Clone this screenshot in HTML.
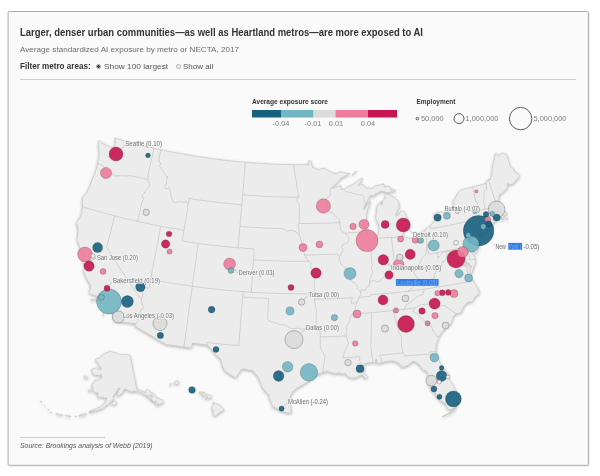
<!DOCTYPE html>
<html><head><meta charset="utf-8"><title>AI exposure map</title>
<style>
html,body{margin:0;padding:0;background:#fff;}
body{width:600px;height:476px;overflow:hidden;position:relative;font-family:"Liberation Sans",sans-serif;}
.t{position:absolute;white-space:nowrap;transform-origin:0 100%;line-height:1;}
.radio{position:absolute;width:5px;height:5px;border-radius:50%;border:1px solid #b5b5b5;background:#ececec;box-sizing:border-box}
.radio.on{background:radial-gradient(circle,#333 0,#333 1px,#f4f4f4 1.6px);border-color:#999}
#rule{position:absolute;left:20px;top:79px;width:556px;height:1px;background:#cfcfcf}
#srule{position:absolute;left:20px;top:437px;width:85px;height:1px;background:#cfcfcf}
svg{position:absolute;left:0;top:0}
.lb{font-size:6.3px;fill:#707070;paint-order:stroke;stroke:#f6f6f6;stroke-width:1.4px;stroke-linejoin:round;font-family:"Liberation Sans",sans-serif}
.lg{font-size:7.4px;fill:#808080;font-family:"Liberation Sans",sans-serif}
.lgb{font-size:7px;font-weight:bold;fill:#333;font-family:"Liberation Sans",sans-serif}
</style></head><body>
<svg width="600" height="476" viewBox="0 0 600 476"><rect x="8.6" y="12.3" width="580.6" height="453.9" rx="1" fill="none" stroke="#e9e9e9" stroke-width="1"/><rect x="8.1" y="11.5" width="580.3" height="453.8" rx="1" fill="#fafafa" stroke="#ababab" stroke-width="1"/></svg>
<div id="title" class="t" style="left:20px;top:26.61px;font-size:10.5px;font-weight:bold;color:#333;transform:scaleX(0.9012)">Larger, denser urban communities—as well as Heartland metros—are more exposed to AI</div><div id="sub" class="t" style="left:20px;top:45.83px;font-size:8px;color:#6b6b6b;transform:scaleX(1.0147)">Average standardized AI exposure by metro or NECTA, 2017</div><div id="f1" class="t" style="left:20px;top:61.94px;font-size:8.7px;font-weight:bold;color:#333;transform:scaleX(0.9312)">Filter metro areas:</div><div id="f2" class="t" style="left:103.7px;top:62.53px;font-size:8px;color:#555;transform:scaleX(1.0367)">Show 100 largest</div><div id="f3" class="t" style="left:183px;top:62.53px;font-size:8px;color:#555;transform:scaleX(1.0017)">Show all</div><span class="radio on" style="left:96px;top:63.5px"></span><span class="radio" style="left:176px;top:63.5px"></span>
<div id="rule"></div>
<svg width="600" height="476" viewBox="0 0 600 476">
<defs><filter id="sh" x="-5%" y="-5%" width="110%" height="110%"><feGaussianBlur in="SourceAlpha" stdDeviation="1.6"/><feOffset dx="0" dy="0.6"/><feComponentTransfer><feFuncA type="linear" slope=".32"/></feComponentTransfer><feMerge><feMergeNode/><feMergeNode in="SourceGraphic"/></feMerge></filter></defs>
<g id="legend" opacity=".995">
<text x="252" y="104" class="lgb" textLength="76" lengthAdjust="spacingAndGlyphs">Average exposure score</text>
<rect x="252" y="110" width="29" height="7.5" fill="#17617f"/><rect x="281" y="110" width="32.5" height="7.5" fill="#73b6c3"/><rect x="313.5" y="110" width="22" height="7.5" fill="#dcdcdc"/><rect x="335.5" y="110" width="32.5" height="7.5" fill="#ee7c9c"/><rect x="368" y="110" width="29" height="7.5" fill="#c8154f"/>
<text x="281" y="126" class="lg" text-anchor="middle">-0.04</text><text x="313" y="126" class="lg" text-anchor="middle">-0.01</text><text x="336" y="126" class="lg" text-anchor="middle">0.01</text><text x="368" y="126" class="lg" text-anchor="middle">0.04</text>
<text x="416.5" y="104" class="lgb" textLength="39" lengthAdjust="spacingAndGlyphs">Employment</text>
<circle cx="417.4" cy="118.6" r="1.3" fill="none" stroke="#333" stroke-width=".8"/><text x="421" y="121" class="lg">50,000</text>
<circle cx="459" cy="118.6" r="5" fill="none" stroke="#333" stroke-width=".8"/><text x="465.5" y="121" class="lg">1,000,000</text>
<circle cx="520.6" cy="118.6" r="11.2" fill="none" stroke="#333" stroke-width=".8"/><text x="533.5" y="121" class="lg">5,000,000</text>
</g>
<g id="map">
<path d="M99.1,140.3L101.0,142.0L102.8,143.6L105.1,144.7L107.3,145.7L110.2,146.7L112.2,147.1L112.3,150.1L112.1,153.4L110.5,156.2L108.6,157.4L111.5,156.5L113.3,153.2L115.0,149.8L114.6,145.8L115.6,141.1L114.5,138.0L117.9,139.0L121.3,140.0L124.7,140.9L128.1,141.8L131.5,142.7L134.9,143.6L138.3,144.4L141.7,145.3L145.1,146.1L148.5,146.9L151.9,147.7L155.4,148.5L158.8,149.2L162.2,150.0L165.7,150.7L169.1,151.4L172.5,152.1L176.0,152.7L179.5,153.4L182.9,154.0L186.4,154.6L189.8,155.2L193.3,155.8L196.8,156.4L200.2,156.9L203.7,157.4L207.2,157.9L210.7,158.4L214.1,158.9L217.6,159.3L221.1,159.8L224.6,160.2L228.1,160.6L231.6,161.0L235.1,161.3L238.6,161.7L242.1,162.0L245.6,162.3L249.1,162.6L252.6,162.8L256.1,163.1L259.6,163.3L263.1,163.5L266.6,163.7L270.1,163.9L273.6,164.1L277.1,164.2L280.6,164.3L284.1,164.5L287.7,164.5L291.2,164.6L294.7,164.7L298.2,164.7L301.7,164.7L305.2,164.7L308.7,164.7L308.7,160.7L311.0,161.3L312.1,165.9L312.4,167.4L315.4,168.5L318.5,169.6L321.7,168.7L324.5,168.3L328.2,170.6L331.7,172.2L335.2,173.8L337.5,172.9L339.8,172.0L342.5,172.5L345.3,172.9L347.5,173.3L349.7,173.6L346.5,175.5L343.9,176.7L341.2,178.0L339.1,180.2L337.1,182.5L333.9,185.8L331.4,187.9L332.6,188.5L335.3,187.6L338.0,186.7L340.5,185.4L341.4,188.1L340.4,189.2L343.9,189.4L345.8,188.1L347.6,186.9L350.1,185.8L352.6,184.7L356.1,182.3L359.6,179.2L362.8,178.4L361.2,180.8L359.2,183.7L358.3,185.9L360.4,184.4L363.7,185.1L366.2,188.1L369.2,188.0L371.9,188.7L375.3,185.7L377.7,185.4L380.1,185.1L383.6,183.7L384.3,186.8L386.9,186.8L388.7,186.0L390.7,187.9L391.1,190.1L394.8,189.6L395.7,191.1L392.4,191.5L389.6,192.3L386.8,193.1L384.5,191.7L380.7,191.3L377.2,193.3L375.0,194.0L373.5,197.2L371.8,195.2L369.6,196.2L368.7,198.4L366.1,203.5L364.4,205.8L363.6,209.7L365.4,207.9L368.1,204.4L370.6,200.9L369.8,203.7L368.6,206.8L367.4,209.9L366.7,214.3L366.5,218.1L365.5,223.0L365.9,225.8L366.8,230.7L367.0,231.6L367.5,234.8L369.0,238.1L370.0,239.8L371.4,240.7L373.4,240.2L374.9,239.3L375.5,238.8L377.6,234.9L379.0,231.5L379.2,227.3L377.7,222.6L375.7,218.3L376.0,215.0L376.6,211.7L376.9,207.6L377.9,204.5L379.9,203.2L381.1,201.2L381.4,205.5L382.4,204.6L382.6,200.8L384.6,198.9L385.7,198.1L384.3,196.3L386.8,194.0L389.1,195.2L391.9,196.4L394.1,197.0L397.5,200.5L398.8,202.6L399.2,207.2L398.1,209.0L397.0,212.0L395.6,213.8L396.1,216.3L399.2,214.5L400.4,211.9L402.6,210.5L404.7,212.1L406.6,216.7L408.2,221.4L408.2,225.2L407.1,226.4L405.6,227.7L404.2,229.6L404.0,232.3L402.1,236.1L403.3,236.2L405.9,237.5L408.1,237.4L408.9,238.5L412.4,237.7L416.2,236.6L419.4,233.3L422.6,231.2L424.7,230.0L427.8,227.6L430.1,225.9L433.0,223.0L434.8,220.3L435.7,218.2L434.2,216.3L433.7,214.4L435.7,213.4L437.7,212.5L441.5,211.7L444.8,212.4L447.8,211.5L450.0,210.8L452.7,208.4L454.8,207.1L454.1,203.9L452.4,201.5L455.2,198.2L457.6,193.8L459.2,191.9L460.8,190.0L462.5,189.4L465.9,188.6L469.2,187.8L472.6,186.9L476.0,186.1L479.4,185.3L482.8,184.4L486.2,183.5L486.4,181.3L488.4,179.7L490.2,179.7L490.8,177.9L492.1,173.7L492.0,169.3L492.7,166.3L493.7,162.1L494.6,157.9L495.4,153.7L496.8,153.7L498.6,155.9L500.4,154.4L502.3,152.8L504.5,153.8L506.7,154.7L508.0,158.7L509.2,162.7L510.5,166.7L513.8,169.0L514.8,172.3L517.4,172.9L519.9,175.9L517.3,179.2L514.3,182.3L512.5,184.2L509.8,184.8L507.5,183.5L507.1,187.8L504.2,191.5L501.9,193.3L499.2,195.1L498.9,198.6L497.5,202.1L497.2,204.1L497.4,205.1L499.4,206.1L497.6,208.4L497.0,210.3L499.6,211.2L501.1,213.6L502.7,215.2L504.4,215.3L506.5,214.0L505.3,211.9L504.0,211.5L505.3,211.3L506.7,213.2L507.2,215.1L504.8,216.2L502.4,217.7L501.2,216.2L500.0,217.9L498.7,219.3L497.4,220.0L496.3,217.2L496.0,218.4L496.3,221.5L493.6,222.7L491.7,223.4L488.7,224.5L485.6,225.4L483.6,227.1L480.4,229.5L479.7,231.7L481.8,230.1L485.1,228.8L488.7,227.8L491.1,225.1L491.0,226.9L494.2,225.3L492.0,227.2L489.9,229.1L487.4,230.8L484.9,232.6L482.8,233.3L480.7,234.1L478.8,234.7L478.3,233.6L477.2,235.3L479.0,235.8L479.6,237.5L479.8,240.5L480.0,243.5L478.4,248.2L476.5,252.1L475.4,253.7L474.6,251.1L471.5,250.5L469.0,248.8L468.7,247.2L468.8,249.4L470.9,251.7L471.3,253.2L473.4,255.0L474.5,255.6L475.5,259.0L475.5,260.7L475.0,263.8L474.0,265.8L472.8,270.1L471.1,274.7L470.2,272.9L470.6,269.5L471.5,266.0L470.0,265.8L469.2,263.2L466.5,262.6L465.0,259.6L465.9,257.8L463.8,256.0L464.5,253.1L465.5,250.1L464.7,249.2L462.7,252.4L462.5,253.5L462.8,256.0L463.0,258.9L464.7,261.9L466.1,265.6L463.5,264.4L460.4,263.9L458.1,263.2L458.8,259.2L457.1,262.3L459.6,264.1L463.7,265.4L467.1,267.0L466.8,270.3L467.8,272.9L467.3,274.6L468.6,276.6L468.7,277.1L471.2,276.8L471.7,277.6L473.2,280.6L475.0,284.1L477.9,288.4L479.3,292.0L479.1,293.9L475.5,296.5L473.7,299.4L472.0,302.4L470.3,301.6L467.0,302.9L464.1,306.2L462.1,309.9L461.3,312.8L458.7,313.3L456.1,313.8L453.5,316.0L452.0,321.1L450.7,324.1L448.4,326.0L446.1,328.0L442.5,331.5L440.7,334.5L439.0,336.7L437.5,340.5L436.4,345.1L435.8,347.3L436.0,351.4L436.2,351.6L437.1,355.5L438.7,359.9L441.4,364.9L443.8,368.3L447.4,372.6L448.3,374.1L448.2,377.9L451.2,382.3L454.0,386.7L455.9,390.7L456.6,396.0L456.8,401.3L455.7,405.3L455.1,408.1L450.9,409.3L448.5,410.0L447.1,407.2L444.9,403.3L440.1,400.8L437.7,397.4L435.5,396.1L436.0,392.8L434.1,393.1L432.4,391.2L430.0,388.3L430.6,385.5L431.1,382.2L429.1,385.2L427.4,383.2L427.4,380.0L428.4,376.6L427.3,372.4L425.6,370.5L423.7,370.5L421.7,367.9L419.7,365.4L416.5,362.5L413.6,361.3L410.5,362.8L410.6,363.8L408.2,365.1L405.8,366.4L401.7,367.4L401.0,365.5L397.9,362.8L393.1,361.0L390.3,360.9L387.1,361.5L383.9,362.1L381.0,362.9L378.4,363.6L376.4,363.8L377.4,361.9L376.2,359.0L375.4,360.5L375.1,362.8L372.8,362.6L368.2,362.7L364.1,364.0L362.6,365.4L361.0,365.6L359.7,367.0L363.4,366.8L365.4,368.8L362.7,370.6L363.8,373.7L366.8,375.7L367.8,376.7L366.5,378.0L364.5,378.7L364.0,376.4L361.1,374.8L358.4,376.2L357.1,377.6L354.3,377.9L351.5,378.2L347.6,376.6L345.6,373.7L341.9,373.9L339.0,372.9L334.4,373.5L331.1,372.5L327.8,371.5L325.2,371.9L322.7,372.4L320.2,373.5L317.6,374.6L314.4,376.5L311.1,379.0L308.8,381.2L305.7,383.1L302.7,384.9L298.9,387.1L296.0,389.2L293.2,391.3L291.2,394.5L289.4,399.3L289.7,403.5L291.0,408.9L291.5,412.5L288.1,413.3L283.2,411.4L280.3,410.8L275.6,407.8L272.7,406.9L271.4,402.5L269.1,397.7L269.2,395.0L266.0,392.2L262.0,386.7L260.3,382.3L258.6,377.9L256.4,375.2L252.5,370.4L249.7,370.1L246.9,369.8L244.2,368.8L240.8,370.1L238.7,374.1L235.6,377.8L232.7,376.0L229.7,374.2L227.1,372.5L224.4,370.8L222.1,365.2L221.5,362.1L220.8,359.1L216.5,355.7L214.1,352.6L211.6,349.5L209.5,347.2L207.3,345.0L203.5,344.5L199.7,344.1L195.9,343.6L192.2,343.1L191.5,347.9L187.2,347.4L182.9,346.8L178.6,346.2L174.3,345.5L170.0,344.9L165.7,344.2L161.7,342.0L157.8,339.7L153.9,337.4L150.0,335.1L146.1,332.8L142.2,330.5L138.4,328.2L134.6,325.8L135.8,323.6L131.5,323.2L127.2,322.7L122.9,322.2L118.6,321.7L114.3,321.1L113.6,319.1L113.7,317.5L113.5,313.5L111.5,310.2L108.7,306.7L107.0,306.2L106.1,305.4L106.0,302.7L103.4,302.3L99.9,299.7L96.8,296.2L93.6,295.1L90.3,293.9L89.2,292.2L90.0,289.5L90.9,286.8L89.5,283.4L86.9,279.0L85.2,275.2L83.6,271.4L84.1,268.1L85.9,266.4L84.3,264.3L82.2,260.8L82.3,257.5L82.9,254.5L84.7,258.2L86.1,256.3L84.7,253.7L83.2,254.0L80.1,251.2L80.1,247.6L78.5,243.6L76.9,239.6L77.8,234.2L77.9,231.1L78.0,228.0L76.3,222.5L79.0,219.3L80.1,216.8L82.0,212.8L82.0,209.4L82.7,206.8L82.2,203.3L82.5,200.3L82.7,197.3L84.7,195.0L86.8,192.3L88.2,189.3L89.6,186.4L90.8,183.2L92.0,180.0L93.3,177.2L94.5,174.4L95.4,171.6L96.4,168.8L97.6,163.6L98.0,160.3L99.0,159.0L99.0,156.2L99.1,152.3L98.9,147.8L98.2,145.3L99.1,140.3ZM163.5,402.9L162.4,403.1L161.4,403.3L160.8,403.7L160.3,404.1L159.5,404.8L158.7,405.4L157.4,405.0L156.2,404.7L155.4,403.3L154.7,402.0L153.7,401.7L152.7,401.4L151.5,400.4L150.2,399.4L149.0,398.2L147.8,396.9L146.9,395.6L146.0,395.2L145.0,394.8L144.1,394.4L143.2,393.9L142.3,393.3L141.4,392.7L140.5,392.4L139.6,392.0L138.8,391.8L137.9,391.7L137.1,391.5L136.2,391.3L135.3,391.4L134.3,391.4L133.4,391.4L132.5,391.7L131.6,391.9L130.7,391.6L129.9,391.3L129.1,391.0L128.2,390.7L127.4,389.9L126.6,389.2L125.6,389.1L124.7,389.0L124.1,389.8L123.4,390.6L123.3,391.8L123.2,392.9L122.3,393.1L121.4,393.2L120.5,394.3L119.6,395.4L118.8,395.7L118.0,396.0L117.2,396.3L117.5,394.7L117.6,393.6L117.8,392.5L117.9,391.0L118.7,390.2L119.5,389.4L120.3,388.2L119.5,388.3L118.7,388.5L117.9,389.4L117.2,390.2L116.5,391.4L115.7,392.5L115.0,393.7L114.3,394.8L113.4,395.8L112.6,396.7L113.2,397.5L113.7,398.2L113.1,399.3L112.4,400.5L111.4,401.2L110.4,402.0L109.5,402.8L108.7,403.7L107.9,404.5L107.1,405.0L106.3,405.5L105.5,405.9L104.5,407.0L103.5,408.1L102.6,408.4L101.7,408.7L100.7,409.0L99.8,409.3L98.9,409.7L98.1,410.0L96.9,410.4L95.8,410.7L94.7,411.0L93.7,411.2L92.7,411.4L91.6,411.7L90.5,412.0L89.5,412.3L89.4,411.3L90.5,411.1L91.5,410.8L92.6,410.5L93.8,410.0L94.9,409.5L95.8,408.9L96.7,408.3L97.7,407.7L98.5,407.7L99.4,407.7L100.5,406.8L101.6,405.9L102.7,405.0L103.5,404.2L104.3,403.5L105.1,402.7L105.6,401.3L106.1,399.9L106.5,398.9L106.9,397.9L106.1,398.0L105.2,398.2L104.4,397.7L103.7,397.3L102.7,397.2L101.7,397.2L101.0,397.4L100.3,397.6L99.4,397.6L98.4,397.6L97.4,397.5L97.7,396.5L98.1,395.5L98.0,394.1L98.0,392.8L97.0,392.9L96.1,392.9L95.4,392.7L94.6,392.5L93.9,392.2L93.4,390.8L92.9,389.4L92.8,388.2L92.7,387.1L92.1,386.2L91.6,385.3L92.1,384.3L92.6,383.2L93.4,382.6L94.1,382.0L94.9,380.2L95.6,380.3L96.2,380.4L96.9,380.5L97.7,380.1L98.4,379.7L99.1,379.3L99.9,379.0L100.6,378.7L101.4,378.4L101.9,376.6L101.4,375.0L101.8,374.3L101.0,374.7L100.1,375.1L99.3,375.5L98.5,375.3L97.7,375.1L97.0,375.1L96.3,375.1L95.6,375.2L94.8,374.8L94.0,374.5L93.3,374.2L92.7,372.9L92.1,371.7L91.7,370.8L91.2,369.9L91.9,369.6L92.7,369.2L93.4,368.8L94.1,368.4L94.9,368.2L95.7,368.1L96.5,367.9L97.0,368.4L97.5,368.8L98.1,369.3L98.8,369.4L99.4,369.5L100.1,369.6L100.8,369.6L101.3,368.2L100.8,367.4L100.3,366.6L99.7,366.2L99.2,365.9L98.6,365.6L98.3,364.4L98.0,363.2L97.4,362.5L96.8,361.8L96.2,361.0L95.7,360.6L95.2,360.3L95.8,359.4L96.4,358.5L96.9,358.5L97.5,358.6L98.1,358.6L98.7,358.6L99.4,358.0L100.1,357.5L100.7,356.9L101.4,356.1L102.0,355.3L102.6,354.5L103.3,354.2L104.0,353.8L104.7,353.5L105.3,353.1L106.0,353.0L106.6,352.9L107.3,352.7L107.9,352.6L108.5,352.0L109.2,351.4L109.8,350.8L110.2,351.1L110.7,351.3L111.2,351.6L111.7,351.8L112.3,352.1L113.0,352.3L113.6,352.5L114.2,352.6L114.8,352.7L115.5,352.7L116.1,353.0L116.8,353.3L117.4,353.6L118.1,353.9L118.7,354.0L119.4,354.1L120.0,354.2L120.7,354.3L121.3,354.4L122.0,354.5L122.6,354.6L123.3,354.7L123.9,354.6L124.6,354.6L125.2,354.6L125.8,354.5L126.4,354.4L127.0,354.6L127.6,354.8L128.2,355.0L128.8,355.1L129.5,355.3L130.1,355.5L130.4,357.3L130.8,359.1L131.1,360.8L131.5,362.6L131.9,364.4L132.2,366.3L132.6,368.1L132.9,369.9L133.3,371.7L133.6,373.5L134.0,375.3L134.4,377.1L134.7,378.9L135.1,380.8L135.4,382.6L135.8,384.4L136.2,386.2L136.5,388.0L136.9,389.8L137.7,389.9L138.6,389.9L139.5,389.9L140.3,389.9L140.8,390.4L141.9,391.1L143.0,391.8L144.0,392.5L144.7,392.7L145.4,392.9L145.8,391.0L146.6,390.2L147.3,389.3L148.6,390.3L149.6,391.1L150.7,392.0L151.7,392.6L152.7,393.1L153.9,394.3L155.0,395.5L156.2,396.7L157.6,398.3L158.5,398.6L159.4,398.9L160.4,399.3L161.3,399.3L162.2,399.4L162.9,401.1L163.5,402.9ZM116.6,402.3L115.9,401.6L115.3,400.8L114.6,401.0L114.0,401.2L113.2,401.9L112.5,402.5L111.7,403.1L112.1,404.2L112.5,405.4L113.6,405.0L114.6,404.6L115.5,404.0L116.4,403.4L116.6,402.3ZM91.6,390.3L91.0,390.0L90.4,389.7L89.4,389.9L88.4,390.1L89.1,391.6L90.0,391.7L90.9,391.7L91.6,390.3ZM88.3,378.1L87.6,377.5L86.9,376.8L86.2,376.1L85.4,376.1L84.6,376.2L83.9,376.3L84.2,377.1L84.5,378.0L85.3,378.3L86.1,378.5L86.9,378.8L87.6,378.5L88.3,378.1ZM86.2,413.4L85.4,413.4L84.6,413.3L83.4,414.1L82.2,414.9L83.1,415.3L83.9,415.7L84.8,415.3L85.7,414.9L86.2,413.4ZM81.9,414.5L80.8,414.8L79.6,415.1L79.1,416.4L80.1,416.1L81.1,415.8L81.9,414.5ZM70.9,416.2L69.8,415.9L68.7,415.6L67.5,415.4L66.4,415.5L65.3,415.6L66.3,416.0L67.3,416.3L68.4,416.6L69.6,416.4L70.9,416.2ZM62.8,415.0L61.8,414.7L60.8,414.5L59.9,414.7L59.1,414.9L60.2,415.4L61.3,415.8L62.8,415.0ZM58.7,414.1L57.8,413.7L57.0,413.3L55.9,414.0L56.9,414.5L57.8,415.0L58.7,414.1ZM49.2,409.6L48.5,409.4L47.9,409.2L48.3,410.0L49.2,409.6ZM41.8,402.2L41.1,401.7L40.3,401.2L40.4,401.9L41.1,402.1L41.8,402.2ZM51.7,412.5L51.0,412.4L50.3,412.3L50.8,412.9L51.7,412.5ZM76.8,416.2L75.9,416.2L75.0,416.1L76.0,416.8L76.8,416.2ZM45.2,406.2L44.2,405.5L44.4,406.2L45.2,406.2ZM92.9,411.7L92.2,411.2L91.5,410.7L90.4,411.2L89.3,411.7L90.1,412.6L91.1,412.5L92.1,412.5L92.9,411.7ZM158.9,404.6L157.9,404.3L156.9,404.0L155.8,402.6L154.8,401.1L155.5,400.9L156.2,400.7L157.1,401.6L157.9,402.5L158.4,403.5L158.9,404.6ZM152.8,401.8L151.6,400.6L150.4,399.3L149.0,398.0L147.6,396.6L148.0,395.8L148.3,395.0L149.2,395.3L150.1,395.5L150.7,396.9L151.4,398.3L152.1,400.0L152.8,401.8ZM153.0,397.4L152.2,397.1L151.3,396.7L150.8,395.7L150.3,394.7L150.9,394.7L151.5,394.7L152.6,395.9L153.0,397.4ZM213.2,402.1L216.2,403.7L220.3,405.3L221.8,407.6L224.4,409.8L219.3,412.7L215.5,416.3L213.1,414.4L213.2,410.6L211.7,407.4L213.7,404.2L213.2,402.1ZM205.1,394.6L206.1,393.8L207.6,395.2L209.6,394.8L212.2,396.4L211.2,398.0L207.6,398.4L207.3,396.5L205.3,395.9L205.1,394.6ZM189.2,388.0L192.3,386.5L194.0,388.8L195.5,390.9L194.0,391.4L191.0,390.9L190.0,389.6L189.2,388.0ZM174.2,382.3L176.0,380.9L178.5,381.2L179.0,383.4L177.5,384.6L174.5,383.6L174.2,382.3ZM199.1,393.0L199.6,391.8L203.1,392.3L204.9,392.3L203.6,393.6L201.1,393.3L199.1,393.0ZM201.6,395.2L203.1,395.0L203.9,396.2L202.6,397.0L201.6,395.2ZM169.5,385.4L171.0,383.3L171.5,384.6L170.5,385.6L169.5,385.4ZM205.1,399.2L206.1,398.4L206.8,399.2L205.9,399.4L205.1,399.2ZM94.1,299.4L97.1,300.1L96.9,301.0L93.8,300.4L94.1,299.4ZM91.0,299.1L93.2,299.5L92.9,300.7L91.1,300.3L91.0,299.1ZM103.8,308.1L105.9,310.1L105.5,310.6L103.6,308.8L103.8,308.1ZM102.6,312.9L104.0,315.5L103.6,315.7L102.4,313.1L102.6,312.9ZM352.0,175.2L354.0,173.4L356.0,171.6L357.1,171.3L355.2,173.0L353.4,174.7L352.0,175.2ZM455.1,408.1L456.3,406.3L454.9,409.7L451.0,413.3L446.3,415.1L442.6,417.0L442.5,416.5L447.1,414.2L451.8,411.9L455.1,408.1ZM507.9,219.0L507.3,218.3L506.0,219.6L507.3,219.8L507.9,219.0ZM503.9,219.6L502.8,218.4L501.6,220.2L503.2,220.0L503.9,219.6Z" fill="#ececec" stroke="#b5b5b5" stroke-width=".5" stroke-linejoin="round" filter="url(#sh)"/>
<path d="M97.6,163.6L101.1,164.6L102.9,166.3L104.6,167.3L104.9,170.2L104.7,172.4L107.6,174.3L111.7,173.8L113.7,174.9L115.7,176.0L118.1,175.8L120.5,175.6L122.8,175.8L125.0,176.0L128.2,175.8L130.5,175.9L132.7,176.0L135.8,176.7L138.8,177.5L141.8,178.2L144.8,178.9L147.8,179.6M154.0,148.2L153.0,152.6L152.0,157.1L151.0,161.5L150.0,166.0L149.0,170.5L148.0,175.0L148.2,177.8L147.8,179.6M147.8,179.6L148.7,181.7L149.8,185.5L147.6,188.3L145.9,190.7L142.1,195.3L143.1,197.8L143.3,199.5L141.9,202.1L140.9,206.9L139.8,211.7L138.7,216.6L137.6,221.4M82.7,206.8L86.4,207.9L90.1,209.0L93.8,210.1L97.5,211.2L101.2,212.2L104.9,213.3L108.6,214.3L112.4,215.2L116.1,216.2L119.8,217.2L123.6,218.1L127.3,219.0L131.1,219.9L134.9,220.8L138.6,221.6L142.4,222.4L146.2,223.2L149.9,224.0L153.7,224.8L157.5,225.6L161.3,226.3L165.1,227.0L168.9,227.7L172.7,228.4L176.5,229.0L180.3,229.7L184.1,230.3M114.8,215.9L113.4,221.1L112.1,226.3L110.7,231.6L109.4,236.8L108.0,242.0L106.6,247.3L109.6,252.1L112.6,256.9L115.6,261.7L118.7,266.5L121.8,271.3L125.0,276.0L128.2,280.8L131.4,285.5L134.7,290.2L138.0,294.9L141.4,299.6M141.4,299.6L141.5,301.8L142.7,305.9L144.1,308.1L141.2,309.7L139.5,314.1L137.4,316.5L138.2,320.7L135.8,323.6M141.4,299.6L142.7,294.4L142.7,291.5L142.6,288.6L145.8,287.8L148.8,288.4L149.7,283.9L150.6,279.3M150.6,279.3L151.6,274.0L152.6,268.7L153.6,263.4L154.6,258.1L155.7,252.8L156.7,247.4L157.7,242.1L158.7,236.8L159.7,231.5L160.8,226.2M150.6,279.3L154.7,280.1L158.9,280.9L163.0,281.6L167.2,282.4L171.3,283.1L175.5,283.7L179.7,284.4L183.9,285.0L188.0,285.6L192.2,286.2L196.4,286.8L200.6,287.3L204.8,287.9L209.0,288.4L213.2,288.8L217.4,289.3L221.6,289.7L225.8,290.2L230.0,290.5L234.2,290.9L238.4,291.3L242.6,291.6L246.8,291.9L251.1,292.2L255.3,292.4L259.5,292.7L263.7,292.9L267.9,293.1L272.1,293.2L276.4,293.4L280.6,293.5L284.8,293.6L289.0,293.7L293.3,293.8L297.5,293.8L301.7,293.8L305.9,293.8L310.2,293.8L314.4,293.7M183.9,346.9L184.6,341.8L185.4,336.6L186.1,331.4L186.8,326.3L187.5,321.1L188.2,315.9L188.9,310.7L189.6,305.6L190.4,300.4L191.1,295.2L191.8,290.0L192.5,284.8L193.2,279.6L193.9,274.4L194.7,269.3L195.4,264.1L196.1,258.9L196.8,253.7L197.5,248.5L198.2,243.3M198.2,243.3L194.3,242.8L190.3,242.2L186.3,241.6L182.4,241.0L183.2,235.6L184.1,230.3M184.1,230.3L184.9,225.0L185.8,219.6L186.6,214.3L187.5,209.0L188.3,203.7L189.2,198.4M189.2,198.4L192.9,199.0L196.6,199.5L200.4,200.1L204.1,200.6L207.9,201.1L211.7,201.6L215.4,202.1L219.2,202.5L222.9,203.0L226.7,203.4L230.5,203.8L234.2,204.1L238.0,204.5L241.8,204.8M188.3,204.0L186.1,200.9L185.0,202.6L182.0,202.1L179.0,201.6L176.8,202.2L174.5,202.8L172.9,201.1L171.0,196.9L171.1,194.2L170.0,191.0L168.8,187.7L165.6,188.8L164.3,187.7L166.5,184.0L166.3,181.2L167.9,176.7L166.0,176.3L164.2,172.7L162.0,168.9L159.6,166.3L160.5,163.7L158.7,160.1L159.8,154.9L160.9,149.7M245.4,162.3L244.9,167.6L244.5,172.9L244.0,178.2L243.6,183.5L243.1,188.8L242.7,194.1L242.2,199.5L241.8,204.8L241.3,210.2L240.9,215.5L240.4,220.9L240.0,226.3L239.5,231.6L239.0,237.0L238.6,242.4L238.1,247.8M198.2,243.3L202.2,243.9L206.2,244.4L210.2,244.9L214.2,245.4L218.2,245.8L222.1,246.3L226.1,246.7L230.1,247.1L234.1,247.4L238.1,247.8L242.1,248.1L246.1,248.4L250.1,248.7L254.1,249.0M254.1,249.0L253.8,254.4L253.5,259.8L253.1,265.2L252.8,270.6L252.4,276.0L252.1,281.4L251.7,286.8L251.4,292.2M253.5,259.8L257.4,260.0L261.3,260.2L265.2,260.4L269.1,260.6L273.0,260.8L276.9,260.9L280.9,261.0L284.8,261.1L288.7,261.2L292.6,261.3L296.5,261.3L300.5,261.3L304.4,261.3L308.3,261.3M240.0,226.3L243.8,226.6L247.7,226.9L251.6,227.2L255.5,227.4L259.4,227.7L263.3,227.9L267.2,228.1L271.1,228.2L275.0,228.4L278.9,228.5L282.8,228.7L284.9,229.9L287.0,231.2L289.4,230.7L291.7,230.2L295.6,231.6L298.0,233.8L299.1,234.4M242.6,194.8L246.3,195.1L250.1,195.4L253.8,195.6L257.5,195.9L261.2,196.1L264.9,196.3L268.7,196.5L272.4,196.7L276.1,196.8L279.9,196.9L283.6,197.1L287.3,197.1L291.0,197.2L294.8,197.3L298.5,197.3M293.9,164.6L294.6,170.0L294.9,173.0L295.2,176.1L295.8,178.9L296.5,181.7L296.7,184.5L296.9,187.3L297.6,190.4L298.2,193.4L298.5,197.3M298.5,197.3L296.3,200.4L299.3,204.2L299.3,209.0L299.2,213.8L299.2,218.7L299.2,223.5L298.0,226.2L299.2,230.0L299.1,234.4M299.2,223.5L302.9,223.5L306.6,223.5L310.2,223.5L313.9,223.4L317.6,223.4L321.3,223.3L325.0,223.2L328.6,223.1L332.3,222.9L336.0,222.8L339.7,222.6M299.1,234.4L300.7,239.2L301.9,243.0L303.3,247.7L303.9,251.6L304.5,255.1L307.1,259.2L308.3,261.3L311.7,263.5L310.0,266.2L312.1,268.9L314.1,270.9L314.2,275.6L314.2,280.3L314.3,285.0L314.3,289.7L314.4,294.4L314.5,299.2M304.5,255.1L308.2,255.0L311.8,254.9L315.4,254.9L319.0,254.7L322.6,254.6L326.3,254.5L329.9,254.3L333.5,254.2L337.1,254.0L339.7,256.3M331.4,187.9L330.1,189.2L330.2,192.2L330.3,195.3L327.0,197.9L326.1,200.6L327.9,202.7L327.3,207.5L327.0,209.7L329.4,211.7L333.2,213.4L336.1,216.8L339.3,219.4L339.7,222.6M339.7,222.6L340.5,227.4L341.0,230.6L344.7,233.1L346.6,235.2L348.9,237.2L348.8,239.9L347.6,242.7L345.3,243.6L342.9,244.6L341.9,247.3L343.2,250.0L342.1,252.2L339.7,256.3L339.2,258.3L340.0,261.2L340.7,263.7L343.3,266.0L346.0,268.3L346.6,271.7L350.8,272.0L350.9,274.7L349.6,278.9L352.5,281.8L354.4,282.4L357.4,286.0L357.4,288.7L360.9,291.9M343.9,189.4L346.3,191.7L348.9,192.2L351.5,192.8L354.1,193.3L356.3,194.3L359.0,194.7L361.6,195.1L364.1,197.2L364.0,201.0L366.1,203.5M344.8,233.1L348.5,232.9L352.2,232.7L355.9,232.4L359.6,232.1L363.3,231.8L367.0,231.5M369.5,282.4L369.9,278.0L372.8,272.5L371.4,267.5L372.2,265.3L371.7,260.2L371.3,255.1L370.8,250.0L370.3,244.9L369.9,239.8M360.9,291.9L361.0,289.5L365.3,290.5L366.3,287.0L369.3,285.6L369.5,282.4L373.2,280.2L377.3,281.9L380.9,280.2L382.0,278.5L383.5,277.2L385.8,279.0L388.0,275.5L390.3,270.2L392.6,269.7L394.8,269.1L394.6,265.7L397.2,265.4L399.9,268.3L403.8,269.4L407.4,269.5L410.1,267.7L413.9,270.6L416.8,268.2L416.5,265.8L419.9,263.4L421.1,260.2L421.7,258.7L423.7,256.5L425.8,254.2L426.4,250.6L426.8,246.9L427.0,244.3M394.6,265.7L394.1,260.9L393.5,256.1L393.0,251.4L392.4,246.6L391.9,241.8L391.3,237.1M375.5,238.8L378.6,238.5L381.8,238.1L385.0,237.8L388.2,237.4L391.3,237.1L391.4,237.7L395.0,237.2L398.5,236.6L402.1,236.1M424.7,230.0L425.5,234.8L426.3,239.6L427.1,244.4L427.8,249.3L428.6,254.1L432.5,253.5L436.3,252.8L440.1,252.1L443.9,251.4L447.7,250.7L451.5,250.0L455.3,249.2L459.0,248.5L462.8,247.7L466.6,246.9M437.0,252.7L437.5,255.4L438.0,258.2L441.0,254.7L442.9,252.4L445.5,252.4L447.5,251.0L450.4,251.5L451.9,254.3M451.9,254.3L453.6,254.5L456.5,256.9L458.6,258.2M451.9,254.3L451.5,256.5L449.1,255.1L446.6,253.8L446.5,255.6L445.9,259.0L443.8,261.9L442.3,262.1L441.7,265.8L437.8,265.1L437.1,268.6L435.9,271.5L434.0,275.6L434.8,277.4L432.8,278.3L430.0,279.9L426.9,281.5L423.4,282.6L420.4,279.3M420.4,279.3L417.4,278.2L414.2,273.5L413.9,270.6M420.4,279.3L417.7,282.4L414.9,285.5L412.0,288.0L409.7,289.7L407.5,291.4M473.2,280.6L469.1,281.4L465.1,282.2L461.0,283.0L457.0,283.7L452.9,284.5L448.8,285.2L444.8,285.9L440.7,286.6L436.6,287.2L432.5,287.9L428.4,288.5L424.4,289.1L420.1,289.7L415.9,290.3L411.7,290.8L407.5,291.4L403.3,291.8L399.2,292.3L395.0,292.7L390.9,293.1L386.8,293.5L382.6,293.8L378.5,294.2L374.3,294.5L370.2,294.8L370.3,296.4L366.5,296.7L362.8,297.0L359.0,297.3M424.4,289.1L422.4,294.5L420.0,295.5L417.5,296.5L413.6,299.6L410.4,302.2L406.4,304.6L404.2,309.2M414.7,307.9L410.6,308.4L406.4,309.0L402.3,309.5L398.1,310.0L394.0,310.4L389.8,310.9L385.6,311.3L381.5,311.7L377.3,312.1L373.1,312.5L369.0,312.8L364.8,313.1L360.6,313.4L356.5,313.7L352.3,314.0M414.7,307.9L417.8,306.3L420.9,304.8L424.6,304.4L428.4,304.1L432.1,303.7L432.3,304.7L433.2,304.0L435.0,306.8L438.2,306.4L441.4,305.9L444.6,305.4L448.4,308.2L452.2,311.0L456.1,313.8M414.7,307.9L413.0,311.4L417.2,313.5L421.0,317.9L424.0,320.4L427.1,322.8L431.8,327.2L433.3,331.3L436.8,336.3L439.0,336.7M436.0,351.4L433.2,351.7L430.5,351.9L431.2,355.9L429.4,354.0L425.3,354.4L421.2,354.7L417.1,355.0L413.1,355.3L409.0,355.6L404.9,355.9L403.3,352.8M403.3,352.8L402.4,349.7L401.6,346.5L401.4,341.1L401.7,337.8L399.3,333.0L398.1,328.5L396.8,324.0L395.6,319.5L394.3,315.0L393.1,310.5M403.3,352.8L399.3,353.3L395.4,353.7L391.4,354.1L387.5,354.5L383.5,354.9L379.6,355.2L381.7,358.8L381.0,362.9M372.8,362.6L372.3,358.5L371.8,354.4L371.3,350.3L370.8,346.2L371.0,340.8L371.1,335.4L371.2,330.0L371.3,324.6L371.4,319.1L371.5,313.7L370.5,312.7M362.6,365.4L359.2,360.6L360.1,356.7L355.8,357.0L351.4,357.3L347.1,357.5L342.7,357.7L343.6,354.7L344.5,351.7L346.0,348.7L347.4,345.6L348.6,342.9L347.3,339.4L346.0,336.0M346.0,336.0L346.2,331.6L346.5,328.7L346.8,325.7L350.1,320.6L350.0,317.4L352.3,314.0L354.2,312.5L355.4,307.3L356.8,302.9L357.9,299.5L359.0,297.3L360.6,295.5L360.9,291.9M346.0,336.0L341.7,336.2L337.4,336.4L333.1,336.5L328.8,336.7L324.5,336.8L320.2,336.9M314.5,299.2L318.7,299.1L322.9,299.0L327.2,298.9L331.4,298.7L335.7,298.6L339.9,298.4L344.1,298.2L348.4,298.0L352.6,297.7L351.0,303.2L353.9,303.0L356.8,302.9M314.5,299.2L315.1,303.1L315.7,307.1L316.3,311.0L316.2,315.8L316.2,320.6L316.2,325.3L316.1,330.1M316.1,330.1L320.1,331.0L320.2,335.2L320.2,339.3L320.3,343.5L320.4,347.7L322.7,351.9L325.1,356.7L324.5,360.0L323.9,363.2L323.5,368.1L322.7,372.4M316.1,330.1L312.5,328.9L308.9,327.7L305.8,328.5L302.7,329.3L300.0,328.7L297.4,328.1L294.7,328.5L292.1,328.9L287.7,326.4L284.2,324.7L280.6,324.9L277.6,323.7L274.5,322.6L270.2,321.3L267.6,319.5L267.9,314.3L268.1,309.0L268.3,303.8L268.5,298.5L264.3,298.3L260.0,298.1L255.7,297.9L251.5,297.6L247.2,297.3L242.9,297.0M243.3,291.6L242.6,297.0L242.2,302.4L241.8,307.8L241.3,313.2L240.9,318.6L240.5,324.0L240.1,329.4L239.7,334.7L239.2,340.1L238.8,345.5L234.8,345.2L230.8,344.9L226.8,344.5L222.8,344.2L218.8,343.8L214.8,343.4L210.7,342.9L206.7,342.5L207.3,345.0M430.1,225.9L430.6,228.8L434.4,228.1L438.2,227.4L442.0,226.7L445.8,226.0L449.6,225.2L453.4,224.5L457.2,223.7L461.0,222.9L464.8,222.0L467.5,224.0L471.4,227.8M471.4,227.8L474.9,228.9L478.5,230.0L478.3,233.6M471.4,227.8L468.9,232.5L469.0,235.5L470.9,238.2L473.6,240.0L471.5,243.8L469.5,245.4L468.7,247.2M469.5,245.4L467.9,245.3L466.6,246.9L467.8,251.3L469.0,255.7L470.2,260.1L472.9,259.5L475.5,259.0M480.4,229.5L479.6,228.6L481.3,227.1L480.5,226.2L479.7,222.2L478.9,218.2L478.9,214.3L478.9,210.4L478.0,206.2L477.0,202.0L475.8,201.8L474.8,197.6L474.2,192.2L473.4,189.6L472.6,186.9M478.9,218.2L482.2,217.5L485.5,216.8L488.8,216.0L492.1,215.3L495.3,214.4L495.6,215.7L496.3,216.8L497.6,217.7L498.7,219.3M492.1,215.3L492.9,218.4L493.7,221.5L493.6,222.7M478.9,210.4L482.0,209.8L485.1,209.1L488.1,208.5L491.1,207.8L494.0,207.2L494.5,206.1L496.2,204.6L497.3,204.4M485.1,209.1L484.0,204.2L483.7,199.8L484.0,196.4L484.0,191.4L486.8,189.0L486.1,184.7L486.2,183.5M497.5,202.1L494.5,199.2L494.1,197.4L492.6,193.0L491.2,188.5L489.8,184.1L488.4,179.7" fill="none" stroke="#b5b5b5" stroke-width=".5" stroke-linejoin="round"/>
</g>
<g id="bubbles"><circle cx="478.6" cy="230.8" r="15.3" fill="#17617f" fill-opacity=".9" stroke="rgba(0,0,0,.35)" stroke-width=".5"/><circle cx="109" cy="301.6" r="12.5" fill="#73b6c3" fill-opacity=".9" stroke="rgba(0,0,0,.35)" stroke-width=".5"/><circle cx="367" cy="240.6" r="11" fill="#ee7c9c" fill-opacity=".9" stroke="rgba(0,0,0,.35)" stroke-width=".5"/><circle cx="294" cy="339.6" r="9" fill="#dcdcdc" fill-opacity=".9" stroke="#777" stroke-width=".5"/><circle cx="456" cy="259" r="9" fill="#c8154f" fill-opacity=".9" stroke="rgba(0,0,0,.35)" stroke-width=".5"/><circle cx="309" cy="372.4" r="8.8" fill="#73b6c3" fill-opacity=".9" stroke="rgba(0,0,0,.35)" stroke-width=".5"/><circle cx="496.6" cy="209.3" r="8.3" fill="#dcdcdc" fill-opacity=".9" stroke="#777" stroke-width=".5"/><circle cx="406" cy="324" r="8.4" fill="#c8154f" fill-opacity=".9" stroke="rgba(0,0,0,.35)" stroke-width=".5"/><circle cx="471" cy="244" r="8.1" fill="#73b6c3" fill-opacity=".9" stroke="rgba(0,0,0,.35)" stroke-width=".5"/><circle cx="453.4" cy="399" r="8" fill="#17617f" fill-opacity=".9" stroke="rgba(0,0,0,.35)" stroke-width=".5"/><circle cx="85" cy="254.4" r="7.4" fill="#ee7c9c" fill-opacity=".9" stroke="rgba(0,0,0,.35)" stroke-width=".5"/><circle cx="323.4" cy="206" r="7.2" fill="#ee7c9c" fill-opacity=".9" stroke="rgba(0,0,0,.35)" stroke-width=".5"/><circle cx="116" cy="154" r="7" fill="#c8154f" fill-opacity=".9" stroke="rgba(0,0,0,.35)" stroke-width=".5"/><circle cx="403.3" cy="225" r="7.1" fill="#c8154f" fill-opacity=".9" stroke="rgba(0,0,0,.35)" stroke-width=".5"/><circle cx="160" cy="323.6" r="7" fill="#dcdcdc" fill-opacity=".9" stroke="#777" stroke-width=".5"/><circle cx="127.4" cy="301.6" r="6" fill="#17617f" fill-opacity=".9" stroke="rgba(0,0,0,.35)" stroke-width=".5"/><circle cx="118.4" cy="317" r="6" fill="#dcdcdc" fill-opacity=".9" stroke="#777" stroke-width=".5"/><circle cx="229.6" cy="264" r="6" fill="#ee7c9c" fill-opacity=".9" stroke="rgba(0,0,0,.35)" stroke-width=".5"/><circle cx="350" cy="273.6" r="6" fill="#73b6c3" fill-opacity=".9" stroke="rgba(0,0,0,.35)" stroke-width=".5"/><circle cx="106" cy="173" r="5.6" fill="#ee7c9c" fill-opacity=".9" stroke="rgba(0,0,0,.35)" stroke-width=".5"/><circle cx="433.7" cy="245.4" r="5.6" fill="#73b6c3" fill-opacity=".9" stroke="rgba(0,0,0,.35)" stroke-width=".5"/><circle cx="434.6" cy="303.6" r="5.6" fill="#c8154f" fill-opacity=".9" stroke="rgba(0,0,0,.35)" stroke-width=".5"/><circle cx="462.7" cy="252" r="5.5" fill="#ee7c9c" fill-opacity=".9" stroke="rgba(0,0,0,.35)" stroke-width=".5"/><circle cx="398.6" cy="264.8" r="5.5" fill="#ee7c9c" fill-opacity=".9" stroke="rgba(0,0,0,.35)" stroke-width=".5"/><circle cx="278.6" cy="376" r="5.4" fill="#17617f" fill-opacity=".9" stroke="rgba(0,0,0,.35)" stroke-width=".5"/><circle cx="441.6" cy="376" r="5.4" fill="#17617f" fill-opacity=".9" stroke="rgba(0,0,0,.35)" stroke-width=".5"/><circle cx="431.4" cy="380.6" r="5.4" fill="#dcdcdc" fill-opacity=".9" stroke="#777" stroke-width=".5"/><circle cx="287.6" cy="366.8" r="5.3" fill="#73b6c3" fill-opacity=".9" stroke="rgba(0,0,0,.35)" stroke-width=".5"/><circle cx="383.3" cy="259.8" r="5.3" fill="#c8154f" fill-opacity=".9" stroke="rgba(0,0,0,.35)" stroke-width=".5"/><circle cx="89" cy="266" r="5.2" fill="#c8154f" fill-opacity=".9" stroke="rgba(0,0,0,.35)" stroke-width=".5"/><circle cx="316" cy="273" r="5.2" fill="#c8154f" fill-opacity=".9" stroke="rgba(0,0,0,.35)" stroke-width=".5"/><circle cx="410.2" cy="254.4" r="5.1" fill="#c8154f" fill-opacity=".9" stroke="rgba(0,0,0,.35)" stroke-width=".5"/><circle cx="97.6" cy="247.6" r="5" fill="#17617f" fill-opacity=".9" stroke="rgba(0,0,0,.35)" stroke-width=".5"/><circle cx="364" cy="224.4" r="5" fill="#ee7c9c" fill-opacity=".9" stroke="rgba(0,0,0,.35)" stroke-width=".5"/><circle cx="383" cy="300" r="5" fill="#c8154f" fill-opacity=".9" stroke="rgba(0,0,0,.35)" stroke-width=".5"/><circle cx="140.4" cy="287" r="4.8" fill="#17617f" fill-opacity=".9" stroke="rgba(0,0,0,.35)" stroke-width=".5"/><circle cx="290" cy="311" r="4.1" fill="#73b6c3" fill-opacity=".9" stroke="rgba(0,0,0,.35)" stroke-width=".5"/><circle cx="434.4" cy="357.6" r="4.4" fill="#73b6c3" fill-opacity=".9" stroke="rgba(0,0,0,.35)" stroke-width=".5"/><circle cx="165.6" cy="244" r="4.2" fill="#c8154f" fill-opacity=".9" stroke="rgba(0,0,0,.35)" stroke-width=".5"/><circle cx="389" cy="275" r="4.2" fill="#c8154f" fill-opacity=".9" stroke="rgba(0,0,0,.35)" stroke-width=".5"/><circle cx="459" cy="273.6" r="4.2" fill="#73b6c3" fill-opacity=".9" stroke="rgba(0,0,0,.35)" stroke-width=".5"/><circle cx="303" cy="247.6" r="4" fill="#ee7c9c" fill-opacity=".9" stroke="rgba(0,0,0,.35)" stroke-width=".5"/><circle cx="357" cy="314" r="4" fill="#ee7c9c" fill-opacity=".9" stroke="rgba(0,0,0,.35)" stroke-width=".5"/><circle cx="360" cy="368.8" r="4" fill="#17617f" fill-opacity=".9" stroke="rgba(0,0,0,.35)" stroke-width=".5"/><circle cx="385.1" cy="224.4" r="4" fill="#c8154f" fill-opacity=".9" stroke="rgba(0,0,0,.35)" stroke-width=".5"/><circle cx="468.6" cy="278" r="4" fill="#73b6c3" fill-opacity=".9" stroke="rgba(0,0,0,.35)" stroke-width=".5"/><circle cx="454" cy="293.6" r="4" fill="#ee7c9c" fill-opacity=".9" stroke="rgba(0,0,0,.35)" stroke-width=".5"/><circle cx="437.6" cy="217.6" r="3.7" fill="#17617f" fill-opacity=".9" stroke="rgba(0,0,0,.35)" stroke-width=".5"/><circle cx="496.7" cy="217.5" r="3.6" fill="#17617f" fill-opacity=".9" stroke="rgba(0,0,0,.35)" stroke-width=".5"/><circle cx="385" cy="328.6" r="3.6" fill="#dcdcdc" fill-opacity=".9" stroke="#777" stroke-width=".5"/><circle cx="446.9" cy="215.7" r="3.5" fill="#73b6c3" fill-opacity=".9" stroke="rgba(0,0,0,.35)" stroke-width=".5"/><circle cx="319.4" cy="244.4" r="3.4" fill="#ee7c9c" fill-opacity=".9" stroke="rgba(0,0,0,.35)" stroke-width=".5"/><circle cx="211.6" cy="309.6" r="3.4" fill="#17617f" fill-opacity=".9" stroke="rgba(0,0,0,.35)" stroke-width=".5"/><circle cx="405.4" cy="298.4" r="3.4" fill="#dcdcdc" fill-opacity=".9" stroke="#777" stroke-width=".5"/><circle cx="445.6" cy="325.4" r="3.4" fill="#dcdcdc" fill-opacity=".9" stroke="#777" stroke-width=".5"/><circle cx="399.8" cy="257.4" r="3.3" fill="#dcdcdc" fill-opacity=".9" stroke="#777" stroke-width=".5"/><circle cx="192" cy="390" r="3.3" fill="#17617f" fill-opacity=".9" stroke="rgba(0,0,0,.35)" stroke-width=".5"/><circle cx="146.2" cy="212.3" r="3.2" fill="#dcdcdc" fill-opacity=".9" stroke="#777" stroke-width=".5"/><circle cx="160.4" cy="335.4" r="3.2" fill="#17617f" fill-opacity=".9" stroke="rgba(0,0,0,.35)" stroke-width=".5"/><circle cx="301.6" cy="302" r="3.2" fill="#dcdcdc" fill-opacity=".9" stroke="#777" stroke-width=".5"/><circle cx="334.4" cy="317.6" r="3.2" fill="#73b6c3" fill-opacity=".9" stroke="rgba(0,0,0,.35)" stroke-width=".5"/><circle cx="348" cy="362.6" r="3.2" fill="#dcdcdc" fill-opacity=".9" stroke="#777" stroke-width=".5"/><circle cx="353" cy="226.4" r="3.2" fill="#ee7c9c" fill-opacity=".9" stroke="rgba(0,0,0,.35)" stroke-width=".5"/><circle cx="400.6" cy="239" r="3.1" fill="#ee7c9c" fill-opacity=".9" stroke="rgba(0,0,0,.35)" stroke-width=".5"/><circle cx="415.3" cy="240" r="3.2" fill="#ee7c9c" fill-opacity=".9" stroke="rgba(0,0,0,.35)" stroke-width=".5"/><circle cx="420.6" cy="240.4" r="3" fill="#78afaf" fill-opacity=".9" stroke="rgba(0,0,0,.35)" stroke-width=".5"/><circle cx="422" cy="311" r="3.2" fill="#c8154f" fill-opacity=".9" stroke="rgba(0,0,0,.35)" stroke-width=".5"/><circle cx="435" cy="315.6" r="3.2" fill="#ee7c9c" fill-opacity=".9" stroke="rgba(0,0,0,.35)" stroke-width=".5"/><circle cx="487.7" cy="219.3" r="3" fill="#ee7c9c" fill-opacity=".9" stroke="rgba(0,0,0,.35)" stroke-width=".5"/><circle cx="101.4" cy="297.4" r="3" fill="#73b6c3" fill-opacity=".9" stroke="rgba(0,0,0,.35)" stroke-width=".5"/><circle cx="103" cy="271.4" r="3" fill="#ee7c9c" fill-opacity=".9" stroke="rgba(0,0,0,.35)" stroke-width=".5"/><circle cx="107" cy="288.2" r="3" fill="#c8154f" fill-opacity=".9" stroke="rgba(0,0,0,.35)" stroke-width=".5"/><circle cx="216" cy="349.4" r="3" fill="#17617f" fill-opacity=".9" stroke="rgba(0,0,0,.35)" stroke-width=".5"/><circle cx="231" cy="270.6" r="3" fill="#78afaf" fill-opacity=".9" stroke="rgba(0,0,0,.35)" stroke-width=".5"/><circle cx="291" cy="287.4" r="3" fill="#c8154f" fill-opacity=".9" stroke="rgba(0,0,0,.35)" stroke-width=".5"/><circle cx="442.2" cy="292.8" r="3" fill="#c8154f" fill-opacity=".9" stroke="rgba(0,0,0,.35)" stroke-width=".5"/><circle cx="434" cy="389" r="3" fill="#17617f" fill-opacity=".9" stroke="rgba(0,0,0,.35)" stroke-width=".5"/><circle cx="488.6" cy="224" r="3" fill="#17617f" fill-opacity=".9" stroke="rgba(0,0,0,.35)" stroke-width=".5"/><circle cx="169" cy="234" r="2.8" fill="#c8154f" fill-opacity=".9" stroke="rgba(0,0,0,.35)" stroke-width=".5"/><circle cx="355.2" cy="343.5" r="2.8" fill="#ee7c9c" fill-opacity=".9" stroke="rgba(0,0,0,.35)" stroke-width=".5"/><circle cx="448.2" cy="292.4" r="2.8" fill="#c8154f" fill-opacity=".9" stroke="rgba(0,0,0,.35)" stroke-width=".5"/><circle cx="486" cy="214.3" r="2.8" fill="#17617f" fill-opacity=".9" stroke="rgba(0,0,0,.35)" stroke-width=".5"/><circle cx="483.3" cy="226.6" r="2.8" fill="#73b6c3" fill-opacity=".9" stroke="rgba(0,0,0,.35)" stroke-width=".5"/><circle cx="169.6" cy="251.6" r="2.6" fill="#ee7c9c" fill-opacity=".9" stroke="rgba(0,0,0,.35)" stroke-width=".5"/><circle cx="281.6" cy="408.6" r="2.6" fill="#17617f" fill-opacity=".9" stroke="rgba(0,0,0,.35)" stroke-width=".5"/><circle cx="396" cy="310.4" r="2.6" fill="#d77f98" fill-opacity=".9" stroke="rgba(0,0,0,.35)" stroke-width=".5"/><circle cx="427.6" cy="323.4" r="2.6" fill="#d77f98" fill-opacity=".9" stroke="rgba(0,0,0,.35)" stroke-width=".5"/><circle cx="437.4" cy="293.2" r="2.6" fill="#ee7c9c" fill-opacity=".9" stroke="rgba(0,0,0,.35)" stroke-width=".5"/><circle cx="468.3" cy="235.2" r="2.6" fill="#73b6c3" fill-opacity=".9" stroke="rgba(0,0,0,.35)" stroke-width=".5"/><circle cx="439.4" cy="396.8" r="2.6" fill="#17617f" fill-opacity=".9" stroke="rgba(0,0,0,.35)" stroke-width=".5"/><circle cx="492.3" cy="213.8" r="2.5" fill="#73b6c3" fill-opacity=".9" stroke="rgba(0,0,0,.35)" stroke-width=".5"/><circle cx="148" cy="155.4" r="2.4" fill="#17617f" fill-opacity=".9" stroke="rgba(0,0,0,.35)" stroke-width=".5"/><circle cx="456" cy="242.7" r="2.4" fill="#f4f4f4" fill-opacity=".9" stroke="#777" stroke-width=".5"/><circle cx="441.6" cy="368" r="2.4" fill="#17617f" fill-opacity=".9" stroke="rgba(0,0,0,.35)" stroke-width=".5"/><circle cx="93" cy="256" r="2.2" fill="#f4f4f4" fill-opacity=".9" stroke="#777" stroke-width=".5"/><circle cx="439.2" cy="382" r="2" fill="#f4f4f4" fill-opacity=".9" stroke="#777" stroke-width=".5"/><circle cx="448" cy="377" r="2" fill="#f4f4f4" fill-opacity=".9" stroke="#777" stroke-width=".5"/><circle cx="476.4" cy="191.4" r="1.6" fill="#ee7c9c" fill-opacity=".9" stroke="rgba(0,0,0,.35)" stroke-width=".5"/><circle cx="457.3" cy="211.6" r="2" fill="#dcdcdc" fill-opacity=".9" stroke="#777" stroke-width=".5"/><circle cx="475" cy="211.4" r="2.4" fill="#73b6c3" fill-opacity=".9" stroke="rgba(0,0,0,.35)" stroke-width=".5"/></g>
<g id="labels" opacity=".995"><line x1="121.2" y1="149" x2="125" y2="145.6" stroke="#999" stroke-width=".5"/><line x1="90.5" y1="261" x2="96" y2="258" stroke="#999" stroke-width=".5"/><line x1="108.5" y1="285.5" x2="112" y2="282.5" stroke="#999" stroke-width=".5"/><line x1="234" y1="268.5" x2="238" y2="273" stroke="#999" stroke-width=".5"/><line x1="303.5" y1="299.5" x2="307.5" y2="296" stroke="#999" stroke-width=".5"/><line x1="301" y1="333.5" x2="305.5" y2="329" stroke="#999" stroke-width=".5"/><line x1="283.5" y1="406.5" x2="287.5" y2="403" stroke="#999" stroke-width=".5"/><line x1="387.7" y1="263.7" x2="391" y2="266.7" stroke="#999" stroke-width=".5"/><line x1="409" y1="230" x2="413" y2="233.5" stroke="#999" stroke-width=".5"/><text x="125.3" y="146" class="lb" textLength="36.7" lengthAdjust="spacingAndGlyphs">Seattle (0.10)</text><text x="97" y="259.6" class="lb" textLength="41" lengthAdjust="spacingAndGlyphs">San Jose (0.20)</text><text x="113" y="283" class="lb" textLength="47" lengthAdjust="spacingAndGlyphs">Bakersfield (0.19)</text><text x="123" y="317.6" class="lb" textLength="51" lengthAdjust="spacingAndGlyphs">Los Angeles (-0.03)</text><text x="238.6" y="275.4" class="lb" textLength="35.8" lengthAdjust="spacingAndGlyphs">Denver (0.03)</text><text x="308.4" y="297" class="lb" textLength="30.6" lengthAdjust="spacingAndGlyphs">Tulsa (0.00)</text><text x="306" y="329.6" class="lb" textLength="33" lengthAdjust="spacingAndGlyphs">Dallas (0.00)</text><text x="288" y="403.6" class="lb" textLength="40" lengthAdjust="spacingAndGlyphs">McAllen (-0.24)</text><text x="391" y="270.3" class="lb" textLength="50.3" lengthAdjust="spacingAndGlyphs">Indianapolis (0.05)</text><text x="413" y="236.7" class="lb" textLength="35" lengthAdjust="spacingAndGlyphs">Detroit (0.10)</text><text x="444.7" y="211.4" class="lb" textLength="35.3" lengthAdjust="spacingAndGlyphs">Buffalo (-0.07)</text>
<line x1="492.2" y1="243" x2="495.3" y2="246" stroke="#999" stroke-width=".5"/>
<rect x="395.9" y="279" width="42.7" height="6.8" fill="#2e7de9"/><text x="397" y="284.6" class="lb" style="fill:#74a9f3;stroke:none" textLength="40.5" lengthAdjust="spacingAndGlyphs">Louisville (0.05)</text>
<text x="495.5" y="248.6" class="lb" textLength="10.3" lengthAdjust="spacingAndGlyphs">New</text><rect x="508.3" y="242.9" width="13.8" height="6.8" fill="#2e7de9"/><text x="508.8" y="248.6" class="lb" style="fill:#74a9f3;stroke:none" textLength="12.8" lengthAdjust="spacingAndGlyphs">York (</text><text x="523.5" y="248.6" class="lb" textLength="15.8" lengthAdjust="spacingAndGlyphs">-0.05)</text>
</g>
</svg>
<div id="srule"></div>
<div id="src" class="t" style="left:20.4px;top:442.40px;font-size:7.8px;font-style:italic;color:#555;transform:scaleX(0.8851)">Source: Brookings analysis of Webb (2019)</div>
</body></html>
